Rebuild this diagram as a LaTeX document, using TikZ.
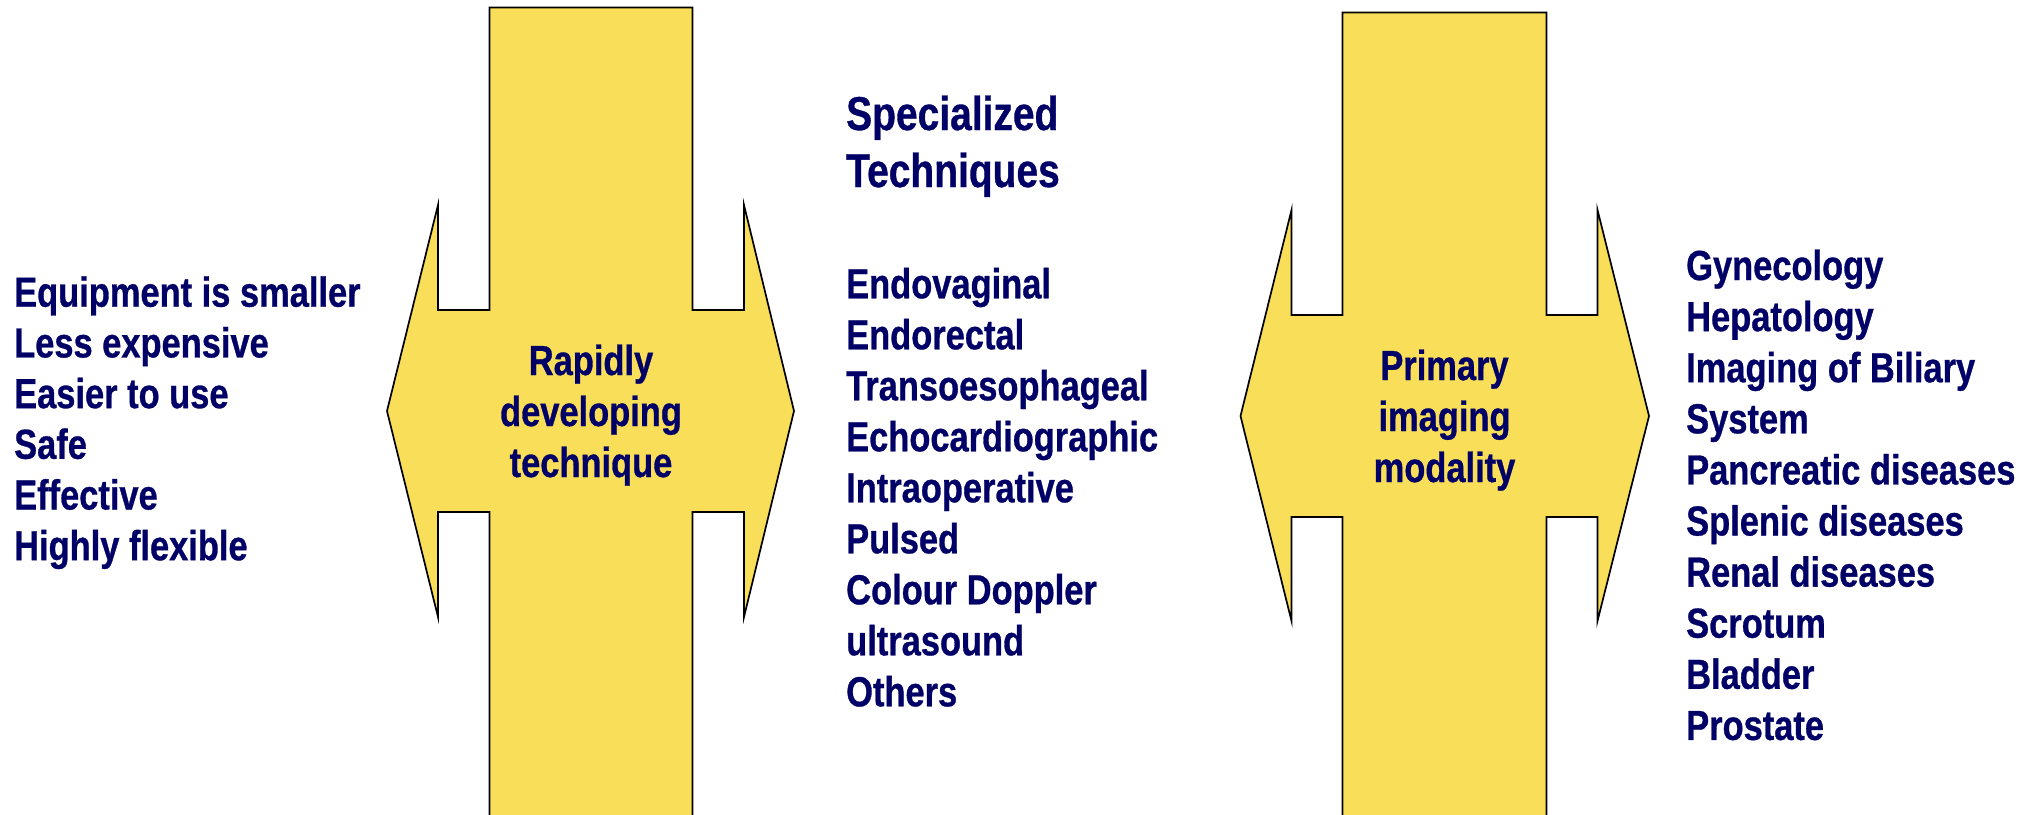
\documentclass[tikz,border=0pt]{standalone}
\usepackage{fontspec}
\setmainfont[FakeStretch=0.82, BoldFeatures={FakeBold=0.7}]{Liberation Sans}
\definecolor{navy}{HTML}{000066}
\definecolor{arrowyellow}{HTML}{F9DE59}
\tikzset{
  item/.style={font=\fontsize{42}{51}\selectfont\bfseries, text=navy, inner sep=0pt, anchor=base west},
  heading/.style={font=\fontsize{47.5}{57}\selectfont\bfseries, text=navy, inner sep=0pt, anchor=base west},
  label/.style={font=\fontsize{42}{51}\selectfont\bfseries, text=navy, inner sep=0pt, anchor=base},
  crossarrow/.style={fill=arrowyellow, draw=black, line width=1.7pt, line join=miter}
}
\begin{document}
\begin{tikzpicture}[x=1pt,y=-1pt]
\useasboundingbox (0,0) rectangle (2037,814);
\clip (0,0) rectangle (2037,814);
% left cross arrow
\draw[crossarrow] (489.5,840) -- (489.5,512) -- (438,512) -- (438,617) -- (387,411) -- (438,205) -- (438,310) -- (489.5,310) -- (489.5,7.5) -- (692.5,7.5) -- (692.5,310) -- (744,310) -- (744,205) -- (794,411) -- (744,617) -- (744,512) -- (692.5,512) -- (692.5,840);
% right cross arrow
\draw[crossarrow] (1342.5,840) -- (1342.5,517) -- (1291.5,517) -- (1291.5,621) -- (1240.5,416) -- (1291.5,210) -- (1291.5,315) -- (1342.5,315) -- (1342.5,12.5) -- (1546.5,12.5) -- (1546.5,315) -- (1597.5,315) -- (1597.5,210) -- (1649,416) -- (1597.5,621) -- (1597.5,517) -- (1546.5,517) -- (1546.5,840);
% center labels
\node[label] (c1) at (591,375) {Rapidly};
\node[label] (c2) at (591,426) {developing};
\node[label] (c3) at (591,477) {technique};
\node[label] (d1) at (1444.5,380) {Primary};
\node[label] (d2) at (1444.5,431) {imaging};
\node[label] (d3) at (1444.5,482) {modality};
% left list
\foreach \t [count=\i] in {Equipment is smaller,Less expensive,Easier to use,Safe,Effective,Highly flexible}
  \node[item] (L\i) at (14,306.7+50.7*\i-50.7) {\t};
% middle heading and list
\node[heading] (h1) at (846,130) {Specialized};
\node[heading] (h2) at (846,187) {Techniques};
\foreach \t [count=\i] in {Endovaginal,Endorectal,Transoesophageal,Echocardiographic,Intraoperative,Pulsed,Colour Doppler,ultrasound,Others}
  \node[item] (M\i) at (846,298.3+51*\i-51) {\t};
% right list
\foreach \t [count=\i] in {Gynecology,Hepatology,Imaging of Biliary,System,Pancreatic diseases,Splenic diseases,Renal diseases,Scrotum,Bladder,Prostate}
  \node[item] (R\i) at (1686,280+51.1*\i-51.1) {\t};
\end{tikzpicture}
\end{document}
